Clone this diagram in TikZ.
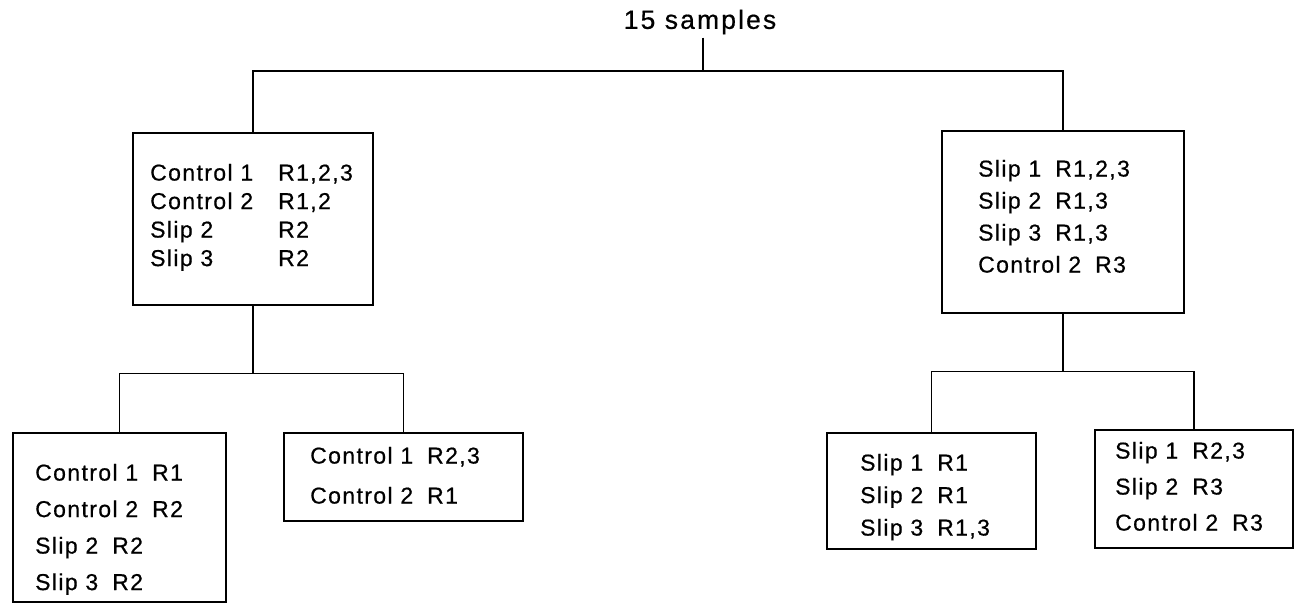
\documentclass[tikz,border=0pt]{standalone}
\usepackage{fontspec}
\setmainfont{Liberation Sans}[LetterSpace=6,FakeBold=0.6]
\newfontfamily\titlefont{Liberation Sans}[LetterSpace=8,FakeBold=0.6]
\newcommand\gp{\hspace{14pt}}
\newcommand\fsz[1]{\fontsize{23}{#1}\selectfont}
\begin{document}
\begin{tikzpicture}[x=1pt,y=-1pt,
  box/.style={draw, line width=1.7pt, inner sep=0pt, anchor=north west},
  txt/.style={inner sep=0pt, anchor=north west, align=left},
  conn/.style={line width=1.6pt}]
\useasboundingbox (0,0) rectangle (1307,609);
% title
\node[inner sep=3pt, font=\titlefont\fontsize{26.5}{30}\selectfont] (T) at (700,22) {15 samples};
\coordinate (j0) at (703,71);
% boxes
\node[box, minimum width=240pt, minimum height=172pt] (A) at (132,132) {};
\node[box, minimum width=242pt, minimum height=182pt] (B) at (941,130) {};
\node[box, minimum width=213pt, minimum height=169pt] (C) at (12,432) {};
\node[box, minimum width=239pt, minimum height=88pt]  (D) at (283,432) {};
\node[box, minimum width=209pt, minimum height=116pt] (E) at (826,432) {};
\node[box, minimum width=198pt, minimum height=118pt] (F) at (1094,429) {};
% texts
\node[txt, font=\fsz{28.5}] (tA) at (150,163.7)
  {\makebox[128pt][l]{Control 1}R1,2,3\\\makebox[128pt][l]{Control 2}R1,2\\\makebox[128pt][l]{Slip 2}R2\\\makebox[128pt][l]{Slip 3}R2};
\node[txt, font=\fsz{32}] (tB) at (978,159.7)
  {Slip 1\gp R1,2,3\\Slip 2\gp R1,3\\Slip 3\gp R1,3\\Control 2\gp R3};
\node[txt, font=\fsz{36.5}] (tC) at (35,463.7)
  {Control 1\gp R1\\Control 2\gp R2\\Slip 2\gp R2\\Slip 3\gp R2};
\node[txt, font=\fsz{40}] (tD) at (310,446.7)
  {Control 1\gp R2,3\\Control 2\gp R1};
\node[txt, font=\fsz{32.5}] (tE) at (860,453.7)
  {Slip 1\gp R1\\Slip 2\gp R1\\Slip 3\gp R1,3};
\node[txt, font=\fsz{36}] (tF) at (1115,441.7)
  {Slip 1\gp R2,3\\Slip 2\gp R3\\Control 2\gp R3};
% connectors
\draw[conn] (T.south -| j0) -- (j0);
\draw[conn] (A.north) |- (j0) -| (B.north);
\path (A.south) ++(0,68) coordinate (j1);
\draw[conn] (A.south) -- (j1);
\draw[conn] (C.north) |- (j1) -| (D.north);
\path (B.south) ++(0,58) coordinate (j2);
\draw[conn] (B.south) -- (j2);
\draw[conn] (E.north) |- (j2) -| (F.north);
\end{tikzpicture}
\end{document}
